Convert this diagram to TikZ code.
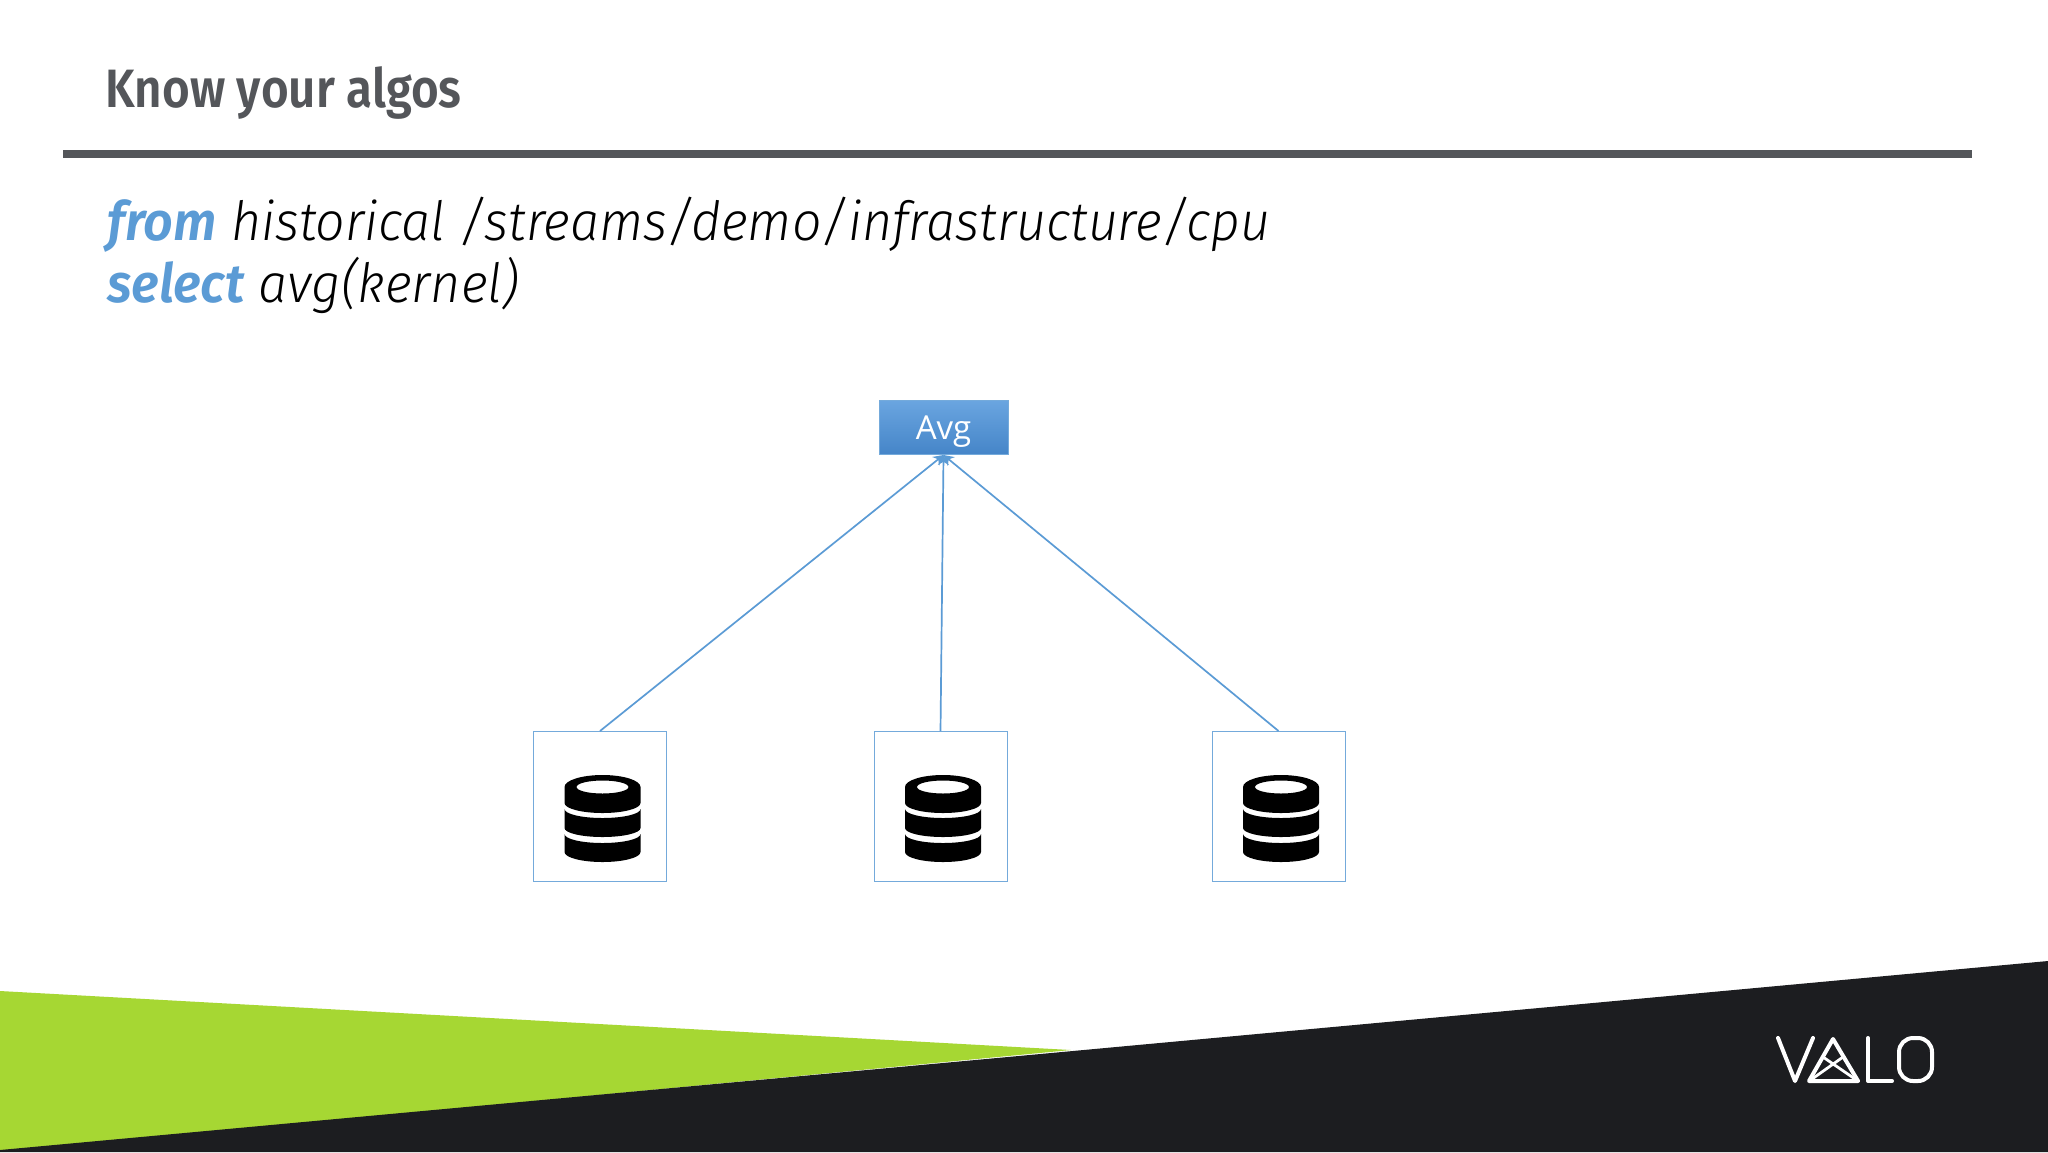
\documentclass[tikz,border=0pt]{standalone}
\usepackage{fontspec}
\setmainfont{Fira Sans}
\newfontfamily\titlefont[UprightFont=* SemiBold,FakeStretch=0.88]{Fira Sans}
\newfontfamily\queryfont[ItalicFont=* Light Italic,BoldItalicFont=* SemiBold Italic,FakeStretch=0.96]{Fira Sans}
\newfontfamily\boxfont{Open Sans}
\definecolor{titlegrey}{HTML}{54565A}
\definecolor{valoblue}{HTML}{5B9BD5}
\definecolor{avgtop}{HTML}{6AA5E0}
\definecolor{avgbottom}{HTML}{4585C8}
\definecolor{valogreen}{HTML}{A6D733}
\definecolor{valodark}{HTML}{1C1D20}
\usetikzlibrary{arrows.meta}
\tikzset{
  slidetitle/.style={anchor=base west,inner sep=0pt,text=titlegrey,font=\titlefont\fontsize{27}{27}\selectfont},
  query/.style={anchor=base west,inner sep=0pt,text=black,font=\queryfont\itshape\fontsize{27}{27}\selectfont},
  avgbox/.style={draw=valoblue!85!white,line width=0.5pt,top color=avgtop,bottom color=avgbottom,minimum width=64.5pt,minimum height=27pt,inner sep=0pt,text=white,text height=11.5pt,text depth=0pt,font=\boxfont\fontsize{16.5}{16.5}\selectfont},
  dbbox/.style={draw=valoblue!85!white,line width=0.5pt,fill=white,minimum width=66.5pt,minimum height=75pt,inner sep=0pt},
  link/.style={draw=valoblue,line width=0.85pt,-{Stealth[length=5pt,width=5.5pt]}},
  logo/.style={draw=white,line width=2pt,line join=round,line cap=round}
}
\newcommand{\kwd}[1]{\textcolor{valoblue}{\bfseries #1}}
\begin{document}
\begin{tikzpicture}[x=0.5pt,y=-0.5pt]
\useasboundingbox (0,0) rectangle (2048,1152);
\fill[white] (0,0) rectangle (2048,1152);
% footer
\fill[valogreen] (0,991) -- (1071,1050) -- (0,1152) -- cycle;
\fill[valodark] (0,1150) -- (2048,961) -- (2048,1152) -- (0,1152) -- cycle;
% header
\node[slidetitle] (title) at (105,107) {Know your algos};
\fill[titlegrey] (63,150) rectangle (1972,158);
\node[query] (q1) at (107,240) {\kwd{from} historical /streams/demo/infrastructure/cpu};
\node[query] (q2) at (107,302) {\kwd{select} avg(kernel)};
% diagram
\node[avgbox] (avg) at (943.5,427.5) {Avg};
\node[dbbox] (db1) at (600,806.5) {};
\node[dbbox] (db2) at (940.5,806.5) {};
\node[dbbox] (db3) at (1278.5,806.5) {};
\foreach \n in {db1,db2,db3}{
  \draw[link] (\n.north) -- (avg.south);
  \begin{scope}[shift={(\n.center)},xshift=1.25pt,yshift=15.75pt]
    \fill[black,even odd rule]
      (-38,12) arc[start angle=180,end angle=360,x radius=38,y radius=12]
      -- (38,28) arc[start angle=0,end angle=180,x radius=38,y radius=10] -- cycle
      (26,12) arc[start angle=0,end angle=360,x radius=26,y radius=6.5];
    \fill[black]
      (-38,34) arc[start angle=180,end angle=0,x radius=38,y radius=9]
      -- (38,53) arc[start angle=0,end angle=180,x radius=38,y radius=9] -- cycle;
    \fill[black]
      (-38,59) arc[start angle=180,end angle=0,x radius=38,y radius=9]
      -- (38,77) arc[start angle=0,end angle=180,x radius=38,y radius=10] -- cycle;
  \end{scope}
}
% logo
\draw[logo] (1778,1038) -- (1795,1081) -- (1813,1038);
\draw[logo] (1833,1039) -- (1809,1081) -- (1858,1081) -- cycle;
\draw[logo,line width=1.4pt] (1823,1057) -- (1855,1079) (1843,1057) -- (1812,1079);
\draw[logo] (1868,1038) -- (1868,1081) -- (1892,1081);
\draw[logo,rounded corners=7pt] (1899,1038) rectangle (1932,1081);
\end{tikzpicture}
\end{document}
